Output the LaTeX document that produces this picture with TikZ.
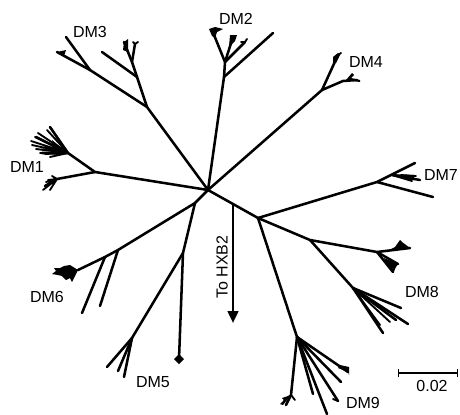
\documentclass[tikz,border=0pt]{standalone}
\usepackage{fontspec}
\setmainfont{Liberation Sans}
\usetikzlibrary{arrows.meta}
\begin{document}
\begin{tikzpicture}[x=0.75pt,y=-0.75pt,
  br/.style={line width=1.9pt,line cap=round},
  tf/.style={line width=1.4pt,line cap=round},
  lab/.style={font=\fontsize{12}{14}\selectfont,inner sep=0pt}]
\useasboundingbox (0,0) rectangle (460,414);
% hubs
\coordinate (C) at (208,190);
\coordinate (A) at (195,203);
\coordinate (R) at (258,218);
\draw[br] (C) -- (R);
\draw[br] (C) -- (A);
% ---- DM3
\coordinate (n3) at (147,107);
\coordinate (n3a) at (90,70);
\coordinate (l3a) at (66,37);
\coordinate (l3b) at (57,52);
\coordinate (n3b) at (137,77);
\coordinate (l3c) at (102,52);
\coordinate (n3c) at (132,62);
\coordinate (l3d) at (124,42);
\coordinate (l3e) at (135,44);
\draw[br] (C) -- (n3) -- (n3a) -- (l3a);
\draw[br] (n3a) -- (l3b);
\draw[br] (n3) -- (n3b) -- (l3c);
\draw[br] (n3b) -- (n3c) -- (l3d);
\draw[br] (n3c) -- (l3e);
\fill (l3b) -- +(9,-2) -- +(7,4) -- cycle;
\fill (l3d) -- +(4,-3) -- +(4,10) -- +(-1,8) -- cycle;
\draw[tf] (l3e) -- +(3,-2) (l3e) -- +(-2,-2);
% ---- DM2
\coordinate (n2) at (224,77);
\coordinate (l2a) at (273,33);
\coordinate (n2b) at (225,62);
\coordinate (l2b) at (212,30);
\coordinate (l2c) at (233,37);
\coordinate (l2d) at (245,42);
\draw[br] (C) -- (n2) -- (l2a);
\draw[br] (n2) -- (n2b) -- (l2b);
\draw[br] (n2b) -- (l2c);
\draw[br] (n2b) -- (l2d);
\fill (l2b) ++(-3,-1) -- ++(6,-2) -- ++(8,2) -- ++(-6,3) -- ++(-2,6) -- ++(-3,-2) -- cycle;
\fill (l2c) ++(-3,-2) -- ++(7,0) -- ++(-2,6) -- ++(-6,6) -- cycle;
\draw[tf] (l2d) -- +(-4,0) (l2d) -- +(2,-3);
% ---- DM4
\coordinate (n4) at (322,90);
\coordinate (l4a) at (338,55);
\coordinate (n4b) at (343,81);
\coordinate (l4b) at (357,80);
\draw[br] (C) -- (n4) -- (l4a);
\draw[br] (n4) -- (n4b) -- (l4b);
\fill (l4a) ++(-5,2) -- ++(5,-4) -- ++(2,2) -- ++(-4,8) -- ++(-3,0) -- cycle;
\draw[tf] (l4a) -- +(3,-2);
\fill (n4b) ++(3,-1) -- ++(6,-7) -- ++(2,2) -- ++(-3,3) -- ++(9,2) -- ++(0,2) -- cycle;
% ---- DM7
\coordinate (n7) at (377,182);
\coordinate (l7a) at (415,163);
\coordinate (n7b) at (392,175);
\coordinate (l7b) at (420,180);
\coordinate (l7c) at (433,197);
\draw[br] (R) -- (n7) -- (l7a);
\draw[br] (n7) -- (l7c);
\draw[br] (n7b) -- (l7b);
\fill (n7b) ++(8,-1) -- ++(14,1) -- ++(0,5) -- ++(-6,0) -- cycle;
\draw[tf] (n7b) -- (416,176) (n7b) -- (412,181);
% ---- DM8
\coordinate (n8) at (310,240);
\coordinate (n8a) at (377,252);
\coordinate (l8a) at (410,248);
\coordinate (l8b) at (398,264);
\coordinate (l8c) at (393,272);
\coordinate (n8b) at (353,288);
\coordinate (l8d) at (401,308);
\coordinate (l8e) at (408,324);
\coordinate (l8f) at (396,320);
\coordinate (l8g) at (383,333);
\draw[br] (R) -- (n8) -- (n8a) -- (l8a);
\draw[br] (n8a) -- (l8b);
\draw[br] (n8a) -- (l8c);
\fill (l8a) ++(0,0) -- ++(-8,-6) -- ++(-2,-2) -- ++(-5,7) -- ++(-8,4) -- cycle;
\fill (l8b) -- ++(-14,-6) -- ++(2,6) -- ++(8,6) -- cycle;
\draw[tf] (l8c) -- +(-4,-8) (l8c) -- +(2,-6);
\draw[br] (n8) -- (n8b) -- (l8d);
\draw[br] (n8b) -- (l8e);
\draw[br] (n8b) -- (l8f);
\draw[br] (n8b) -- (l8g);
\draw[tf] (n8b) -- (390,322) (n8b) -- (380,325);
% ---- DM9
\coordinate (n9) at (297,337);
\coordinate (l9a) at (348,372);
\coordinate (l9b) at (341,382);
\coordinate (l9c) at (313,394);
\coordinate (l9d) at (338,401);
\coordinate (l9e) at (327,414);
\coordinate (n9f) at (291,395);
\coordinate (l9f) at (286,405);
\draw[br] (R) -- (n9) -- (l9a);
\draw[br] (n9) -- (l9b);
\draw[br] (n9) -- (l9c);
\draw[br] (n9) -- (l9d);
\draw[br] (n9) -- (l9e);
\draw[br] (n9) -- (n9f) -- (l9f);
\fill (l9a) -- ++(-10,-4) -- ++(2,-3) -- ++(9,2) -- ++(0,8) -- cycle;
\draw[tf] (l9d) -- +(-5,-2);
\fill (n9f) -- ++(-8,10) -- ++(-3,-1) -- ++(4,-4) -- ++(-2,-2) -- cycle;
\draw[tf] (n9f) -- +(-7,6) (n9f) -- +(4,5);
% ---- DM1
\coordinate (n1) at (95,172);
\coordinate (n1a) at (68,153);
\coordinate (n1b) at (57,179);
\draw[br] (C) -- (n1) -- (n1a);
\draw[br] (n1) -- (n1b);
\draw[tf] (n1a) -- (50,127) (n1a) -- (47,130) (n1a) -- (38,133) (n1a) -- (35,137)
  (n1a) -- (31,141) (n1a) -- (32,145) (n1a) -- (36,149) (n1a) -- (40,153) (n1a) -- (45,154) (n1a) -- (50,157);
\draw[br] (n1a) -- (50,127) (n1a) -- (36,137) (n1a) -- (42,153);
\fill (n1a) -- (52,140) -- (55,150) -- cycle;
\draw[tf] (n1b) -- (45,186) (n1b) -- (43,190) (n1b) -- (48,180) (n1b) -- (52,176) (n1b) -- (46,182) (n1b) -- (50,190);
\draw[br] (n1b) -- (45,186);
% ---- DM6
\coordinate (n6a) at (118,250);
\coordinate (n6b) at (105,257);
\coordinate (n6c) at (78,270);
\coordinate (l6a) at (100,306);
\coordinate (l6b) at (82,313);
\draw[br] (A) -- (n6a) -- (n6b) -- (n6c);
\draw[br] (n6a) -- (l6a);
\draw[br] (n6b) -- (l6b);
\fill (n6c) -- (70,265) -- (64,266) -- (60,268) -- (54,268) -- (56,271) -- (52,274) -- (58,275)
  -- (62,276) -- (66,280) -- (70,278) -- (72,282) -- (75,276) -- cycle;
% ---- DM5
\coordinate (n5) at (183,253);
\coordinate (l5a) at (179,359);
\coordinate (n5a) at (132,338);
\coordinate (l5b) at (107,367);
\coordinate (l5c) at (118,371);
\coordinate (l5d) at (124,377);
\draw[br] (A) -- (n5) -- (l5a);
\fill (l5a) ++(-5,0) -- ++(5,-5) -- ++(5,5) -- ++(-5,5) -- cycle;
\draw[br] (n5) -- (n5a) -- (l5b);
\draw[br] (n5a) -- (l5c);
\draw[br] (n5a) -- (l5d);
% ---- arrow to HXB2
\coordinate (hs) at (233,204);
\coordinate (he) at (233,323);
\draw[line width=1.9pt,-{Triangle[length=9pt,width=8pt]}] (hs) -- (he);
\node[lab,rotate=90] (hx) at (222,267) {To HXB2};
% ---- labels
\node[lab] (t3) at (90,32) {DM3};
\node[lab] (t2) at (236,19) {DM2};
\node[lab] (t4) at (366,62) {DM4};
\node[lab] (t7) at (441,175) {DM7};
\node[lab] (t1) at (27,167) {DM1};
\node[lab] (t6) at (47,297) {DM6};
\node[lab] (t5) at (153,382) {DM5};
\node[lab] (t8) at (422,292) {DM8};
\node[lab] (t9) at (363,403) {DM9};
% ---- scale bar
\coordinate (sa) at (398,373);
\coordinate (sb) at (458,373);
\draw[line width=1pt,{Bar[width=6pt]}-{Bar[width=6pt]}] (sa) -- (sb);
\node[lab] (sl) at (432,386) {0.02};
\end{tikzpicture}
\end{document}
